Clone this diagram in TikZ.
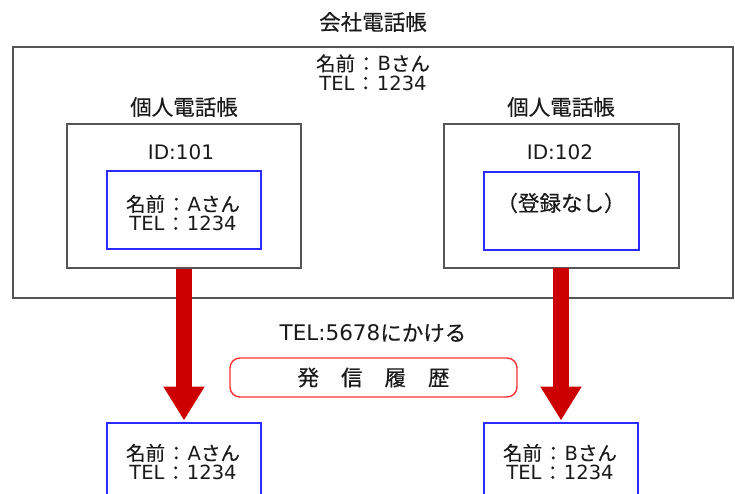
\documentclass[tikz,border=0pt]{standalone}
\usepackage{fontspec}
\setmainfont{Noto Sans CJK JP}[FakeBold=0.35]
\newfontfamily\latfont{DejaVu Sans}
\usetikzlibrary{arrows.meta}
\definecolor{gline}{HTML}{555555}
\definecolor{bline}{HTML}{2B2BFF}
\definecolor{rarrow}{HTML}{CC0000}
\definecolor{rbox}{HTML}{FF3333}
\definecolor{txt}{HTML}{1A1A1A}
\newcommand{\ltn}[1]{{\latfont #1}}
\newcommand{\colsep}{\hspace{1.5pt}：\hspace{1.5pt}}
\begin{document}
\begin{tikzpicture}[x=1pt,y=-1pt,
  every node/.style={font=\fontsize{21.5}{21.5}\selectfont, text=txt, inner sep=0pt},
  lbl/.style={align=center, font=\fontsize{19.5}{19.5}\selectfont},
  idl/.style={font=\fontsize{20}{20}\selectfont},
  graybox/.style={draw=gline, line width=1.6pt},
  bluebox/.style={draw=bline, line width=1.6pt},
  redbox/.style={draw=rbox, line width=1.4pt, rounded corners=10pt},
  bigarrow/.style={draw=rarrow, line width=16pt, -{Triangle[width=39pt,length=34pt,fill=rarrow]}, shorten >=1.5pt}]
\clip (0,0) rectangle (735,494);
\fill[white] (0,0) rectangle (735,494);
% boxes
\node[graybox, minimum width=720pt, minimum height=251pt] (outer) at (373,172.5) {};
\node[graybox, minimum width=234pt, minimum height=144pt] (in1) at (184,196) {};
\node[graybox, minimum width=235pt, minimum height=144pt] (in2) at (561.5,196) {};
\node[bluebox, minimum width=154pt, minimum height=78pt] (bl1) at (184,210) {};
\node[bluebox, minimum width=155pt, minimum height=78pt] (bl2) at (561.5,211) {};
\node[bluebox, minimum width=154pt, minimum height=100pt, anchor=north] (b1) at (184,422) {};
\node[bluebox, minimum width=154pt, minimum height=100pt, anchor=north] (b2) at (561,422) {};
\node[redbox, minimum width=287pt, minimum height=39pt] (hist) at (373.5,377.5) {};
% texts
\node (title) at (373,22) {会社電話帳};
\node[lbl] (bname) at (373,72.5) {名前\colsep\ltn{B}さん\\\ltn{TEL}\colsep\ltn{1234}};
\node (p1) at (184,107) {個人電話帳};
\node (p2) at (561,107) {個人電話帳};
\node[idl] (id1) at (181,152) {\ltn{ID:101}};
\node[idl] (id2) at (560,152) {\ltn{ID:102}};
\node[lbl] (aname) at (183,213) {名前\colsep\ltn{A}さん\\\ltn{TEL}\colsep\ltn{1234}};
\node (none) at (561,203) {（登録なし）};
\node (call) at (373,333) {\ltn{TEL:5678}にかける};
\node (histtxt) at (373.5,377.5) {発\hspace{22pt}信\hspace{22pt}履\hspace{22pt}歴};
\node[lbl] (ra) at (183,462) {名前\colsep\ltn{A}さん\\\ltn{TEL}\colsep\ltn{1234}};
\node[lbl] (rb) at (560,462) {名前\colsep\ltn{B}さん\\\ltn{TEL}\colsep\ltn{1234}};
% arrows
\draw[bigarrow] (in1.south) -- (b1.north);
\draw[bigarrow] (561,268) -- (b2.north);
\end{tikzpicture}
\end{document}
